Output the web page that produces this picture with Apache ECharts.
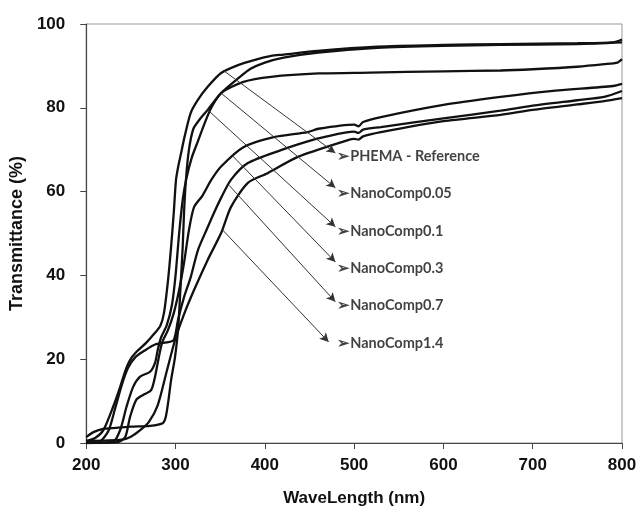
<!DOCTYPE html>
<html>
<head>
<meta charset="utf-8">
<script src="https://cdn.jsdelivr.net/npm/echarts@6/dist/echarts.min.js"></script>
<style>html,body{margin:0;padding:0;background:#fff}#c{width:642px;height:517px}</style>
</head>
<body>
<div id="c"></div>
<script>
// ---- data (wavelength nm, transmittance %) ----
const phema = [[200,0.5],[210,1.2],[219,3],[230,8.6],[238,13.4],[244,17.4],[249,19.8],[256,21.7],[267,23.9],[277,26.3],[283,28],[287,31],[291.6,38.9],[295,46.8],[298,55],[300.5,62.8],[303,66],[306,69],[310,73],[317,78.8],[325,81.9],[336,85],[351,88.3],[370,90.2],[388,91.4],[407,92.4],[421,92.7],[459,93.6],[526,94.6],[600,95],[664,95.2],[750,95.4],[790,95.6],[800,96.3]];
const nano005 = [[200,0],[230,0.3],[238,3.1],[245,8.6],[252.5,13.4],[260,15.8],[271.5,17],[277,19.1],[280,22.2],[284,25.3],[290,28],[296,33],[300,40],[304,50],[308,58],[312,63],[318,68],[325,72],[332,76],[340,80],[351,83.5],[376,86.2],[407,87.4],[460,88.2],[518,88.4],[600,88.7],[664,88.9],[700,89.2],[750,89.8],[780,90.4],[795,90.8],[800,91.6]];
const nano01 = [[200,1.4],[208,2.6],[220,3.4],[233.5,3.6],[250,3.9],[271.5,4.1],[286,4.8],[289,6.2],[291.6,9.5],[295,15],[299.4,20.5],[302.8,27],[304,31],[306,38.9],[308,46.8],[309.5,55],[311.7,63],[315,70],[320,75],[328,77.5],[336,79.5],[351,83.5],[370,87],[384,89.3],[400,90.8],[421,92],[460,93.2],[526,94.3],[600,94.8],[664,95],[750,95.2],[800,95.6]];
const nano03 = [[200,0],[235,0.2],[243.6,1.4],[249,6.2],[256,10.3],[264,11.5],[272.6,12.6],[277,15.8],[280,19.1],[285,24],[291.6,27],[298,31],[304,36.5],[309.5,43],[315,50.8],[320.7,56.3],[330,59],[340,62.8],[351,66],[376,70.6],[410,73],[448,74.2],[460,75],[500,76],[505,75.6],[510,76.6],[530,77.8],[600,80.7],[664,82.6],[720,84],[790,85.2],[800,85.7]];
const nano07 = [[200,0],[215,0.3],[225,3],[232,8],[240,14],[247,18],[255,20.5],[265,22],[277,23.5],[290,24],[298,24.6],[302.8,29.4],[309.5,34.8],[317,39.6],[325,46],[335,51],[343,54.9],[351,58.5],[362,62.8],[381,66.8],[418,69.9],[448,72],[466,73],[500,74.3],[505,74],[510,74.8],[530,75.4],[600,77.5],[664,79.3],[700,80.5],[750,81.8],[780,82.6],[800,84]];
const nano14 = [[200,0.5],[240,0.8],[250,1.5],[260,3],[270,5],[280,9],[290,17],[300,25],[310,31],[320.7,36.5],[336,43.7],[351,50.1],[362,56.3],[381,62.1],[403,64.4],[437,68.3],[493,72.3],[500,72.6],[505,72.4],[510,73.2],[530,74.2],[600,76.8],[664,78.3],[700,79.5],[750,80.8],[780,81.6],[800,82.3]];

const labelNames = ['PHEMA - Reference','NanoComp0.05','NanoComp0.1','NanoComp0.3','NanoComp0.7','NanoComp1.4'];
// arrow start (on curve) and end (near label), data coordinates
const arrowFrom = [[353,89],[351,83.5],[336,79.5],[364,68.5],[360,61.5],[352,51]];
const arrowTo = [[479,69.2],[479,60.9],[479,51.6],[479,43.2],[479,33.7],[471.5,24.1]];
const labelAt = [[481,68.5],[481,59.6],[481,50.5],[481,41.7],[481,32.8],[481,23.8]];

const xTicks = {min:200,max:800,interval:100};
const yTicks = {min:0,max:100,interval:20};

const chart = echarts.init(document.getElementById('c'));
const curves = [phema,nano005,nano01,nano03,nano07,nano14];
const series = curves.map((d,i)=>({
  type:'line', name:labelNames[i], data:d, showSymbol:false, smooth:0.25,
  lineStyle:{color:'#111',width:2.3}, silent:true, z:3
}));
series.push({
  type:'line', data:[], silent:true,
  markLine:{
    silent:true, symbol:['none','arrow'], symbolSize:[7,9],
    lineStyle:{color:'#333',width:1,type:'solid'}, label:{show:false},
    data: arrowFrom.map((p,i)=>[{coord:p},{coord:arrowTo[i]}])
  }
});
series.push({
  type:'scatter', symbolSize:0, silent:true,
  data: labelAt.map((p,i)=>({value:p, name:labelNames[i]})),
  label:{show:true, position:'right', distance:0, formatter:p=>'\u27A2'+p.name,
    fontFamily:'Lato', fontWeight:'bold', fontSize:14.5, color:'#111'}
});

chart.setOption({
  animation:false,
  backgroundColor:'#fff',
  grid:{left:85,right:20,top:24,bottom:74,show:true,borderColor:'#999',borderWidth:1},
  xAxis:{type:'value',min:xTicks.min,max:xTicks.max,interval:xTicks.interval,
    name:'WaveLength (nm)',nameLocation:'middle',nameGap:47,
    nameTextStyle:{fontFamily:'Liberation Sans',fontWeight:'bold',fontSize:17,color:'#111'},
    axisLine:{lineStyle:{color:'#444',width:1.2}},
    axisTick:{show:true,length:6,inside:false,lineStyle:{color:'#444'}},
    axisLabel:{fontFamily:'Liberation Sans',fontWeight:'bold',fontSize:17,color:'#111',margin:14},
    splitLine:{show:false}},
  yAxis:{type:'value',min:yTicks.min,max:yTicks.max,interval:yTicks.interval,
    name:'Transmittance (%)',nameLocation:'middle',nameGap:60,
    nameTextStyle:{fontFamily:'Liberation Sans',fontWeight:'bold',fontSize:18,color:'#111'},
    axisLine:{show:true,lineStyle:{color:'#444',width:1.2}},
    axisTick:{show:true,length:6,inside:false,lineStyle:{color:'#444'}},
    axisLabel:{fontFamily:'Liberation Sans',fontWeight:'bold',fontSize:17,color:'#111',margin:21},
    splitLine:{show:false}},
  series
});
</script>
</body>
</html>
